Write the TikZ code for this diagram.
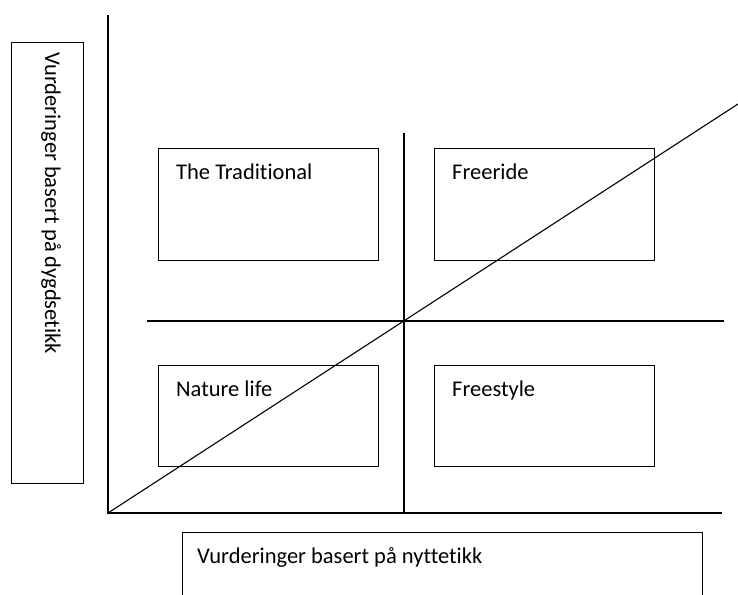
\documentclass[tikz,border=0pt]{standalone}
\usepackage{fontspec}
\setmainfont{Carlito}[RawFeature={-liga}]
\begin{document}
\begin{tikzpicture}[x=1pt,y=-1pt,
  frame/.style={draw=black,line width=1.1pt,rectangle,inner sep=0pt,anchor=north west},
  axis/.style={draw=black,line width=1.1pt},
  lbl/.style={font=\fontsize{22.5}{27}\selectfont,inner sep=0pt,anchor=base west}]
\useasboundingbox (0,0) rectangle (738,594);
% left label box
\node[frame,minimum width=72pt,minimum height=441pt] (lbox) at (11,42) {};
\node[lbl,rotate=-90] (ltext) at (45,52) {Vurderinger basert på dygdsetikk};
% bottom label box
\node[frame,minimum width=520pt,minimum height=100pt] (bbox) at (182,532) {};
\node[lbl] (btext) at (197,563) {Vurderinger basert på nyttetikk};
% quadrant boxes
\node[frame,minimum width=220pt,minimum height=112pt] (tl) at (158,148) {};
\node[frame,minimum width=220pt,minimum height=112pt] (tr) at (434,148) {};
\node[frame,minimum width=220pt,minimum height=101pt] (bl) at (158,365) {};
\node[frame,minimum width=220pt,minimum height=101pt] (br) at (434,365) {};
\node[lbl] (tltext) at (176,179) {The Traditional};
\node[lbl] (trtext) at (452,179) {Freeride};
\node[lbl] (bltext) at (176,396) {Nature life};
\node[lbl] (brtext) at (452,396) {Freestyle};
% axes
\coordinate (o) at (108,513);
\coordinate (ytop) at (108,15);
\coordinate (xend) at (722,513);
\draw[axis] (ytop) -- (o) -- (xend);
% cross lines
\coordinate (vtop) at (404,133);
\coordinate (vbot) at (404,513);
\coordinate (hl) at (147,321);
\coordinate (hr) at (724,321);
\draw[axis] (vtop) -- (vbot);
\draw[axis] (hl) -- (hr);
% diagonal
\coordinate (dend) at (738,104);
\draw[axis] (o) -- (dend);
\end{tikzpicture}
\end{document}
